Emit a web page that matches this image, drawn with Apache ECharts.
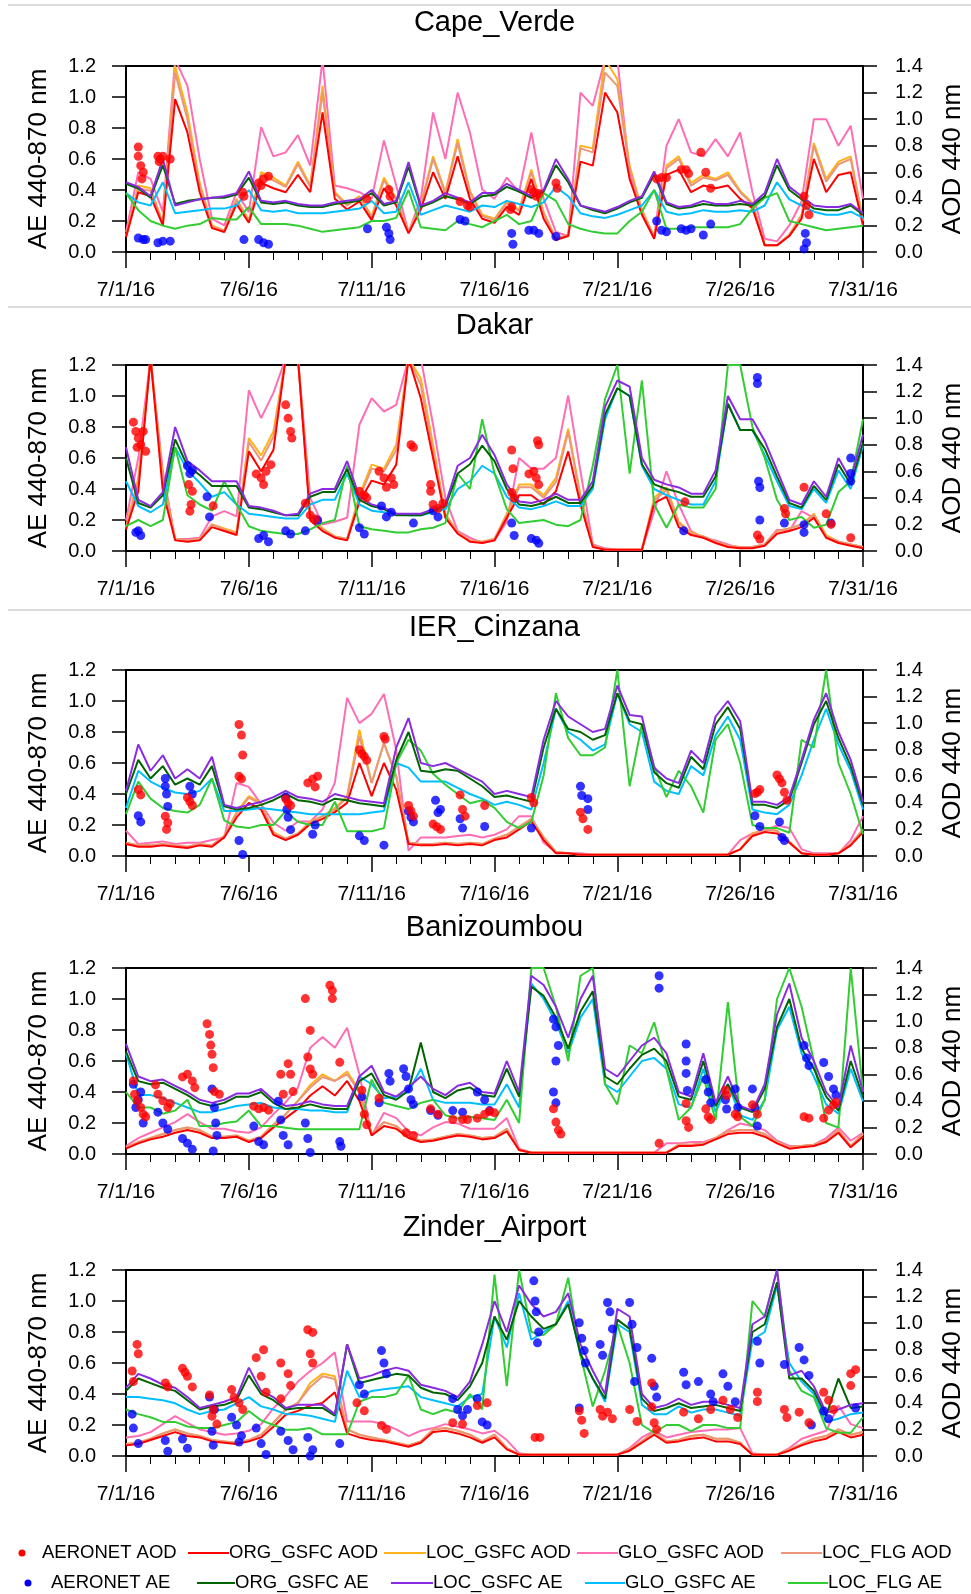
<!DOCTYPE html>
<html>
<head>
<meta charset="utf-8">
<script src="https://cdn.jsdelivr.net/npm/echarts@6/dist/echarts.min.js"></script>
<style>
  html, body { margin: 0; padding: 0; background: #fff; }
  #chart { width: 971px; height: 1594px; }
</style>
</head>
<body>
<div id="chart"></div>
<script>
// days after 7/1/16, 12-hourly
const days = [0,0.5,1,1.5,2,2.5,3,3.5,4,4.5,5,5.5,6,6.5,7,7.5,8,8.5,9,9.5,10,10.5,11,11.5,12,12.5,13,13.5,14,14.5,15,
  15.5,16,16.5,17,17.5,18,18.5,19,19.5,20,20.5,21,21.5,22,22.5,23,23.5,24,24.5,25,25.5,26,26.5,27,27.5,28,28.5,29,29.5,30];

// ---- Cape_Verde ----
const cvOrgAod = [.11,.45,.42,.2,1.15,.9,.45,.18,.15,.36,.22,.52,.48,.45,.58,.45,1.05,.4,.32,.38,.24,.48,.35,.14,.32,.6,.4,.72,.4,.25,.22,
  .34,.28,.55,.25,.09,.12,.68,.65,1.2,1.05,.55,.28,.1,.58,.62,.45,.5,.48,.5,.4,.33,.05,.05,.12,.25,.7,.45,.58,.6,.2];
const cvLocAod = [.12,.5,.48,.22,1.4,1.05,.52,.2,.16,.4,.24,.6,.56,.5,.68,.5,1.25,.45,.36,.42,.27,.56,.4,.15,.36,.72,.45,.85,.46,.28,.25,
  .38,.32,.62,.3,.1,.13,.8,.78,1.45,1.3,.65,.32,.11,.65,.72,.52,.58,.55,.6,.46,.37,.05,.05,.13,.28,.82,.55,.68,.72,.24];
const cvGloAod = [.15,.6,.55,.3,1.45,1.25,.7,.25,.2,.45,.3,.94,.72,.75,.88,.65,1.45,.5,.48,.45,.4,.84,.5,.15,.4,1.05,.7,1.2,.9,.47,.4,
  .56,.45,.9,.4,.15,.12,1.2,1.1,1.45,1.45,.6,.3,.12,.8,1.0,.75,.72,.85,.72,.9,.45,.1,.08,.2,.38,1.0,1.0,.8,.95,.4];
const cvFlgAod = [.12,.48,.46,.22,1.35,1.0,.5,.19,.16,.39,.23,.58,.54,.49,.66,.49,1.2,.44,.35,.41,.26,.54,.39,.15,.35,.7,.44,.82,.45,.27,.24,
  .37,.31,.6,.29,.1,.13,.78,.75,1.35,1.25,.63,.31,.11,.63,.7,.5,.56,.54,.58,.45,.36,.05,.05,.13,.27,.8,.53,.66,.7,.23];
const cvOrgAe = [.44,.41,.35,.56,.31,.33,.34,.35,.35,.37,.48,.32,.31,.32,.3,.29,.29,.31,.32,.33,.38,.3,.32,.55,.29,.32,.36,.34,.31,.36,.37,
  .42,.39,.35,.39,.56,.45,.3,.27,.25,.28,.32,.35,.5,.31,.28,.29,.31,.3,.3,.31,.3,.36,.56,.4,.34,.28,.27,.27,.3,.24];
const cvLocAe = [.45,.42,.36,.6,.3,.32,.34,.35,.36,.38,.52,.33,.32,.33,.31,.3,.3,.32,.33,.34,.4,.31,.33,.58,.3,.33,.38,.35,.32,.38,.38,
  .44,.4,.36,.4,.6,.47,.3,.28,.26,.29,.33,.36,.52,.32,.29,.3,.33,.31,.31,.33,.31,.38,.6,.42,.36,.3,.29,.29,.31,.25];
const cvGloAe = [.38,.32,.3,.45,.25,.26,.27,.28,.28,.3,.4,.27,.26,.27,.25,.25,.25,.26,.27,.28,.33,.25,.26,.45,.24,.27,.3,.28,.26,.3,.29,
  .33,.31,.29,.32,.42,.36,.25,.23,.22,.24,.27,.3,.4,.26,.24,.25,.27,.26,.26,.27,.26,.3,.45,.34,.3,.26,.24,.24,.26,.22];
const cvFlgAe = [.38,.27,.2,.17,.15,.17,.18,.22,.21,.21,.29,.18,.18,.18,.17,.15,.13,.14,.15,.16,.2,.2,.22,.4,.16,.15,.14,.2,.18,.16,.2,
  .24,.18,.2,.38,.33,.18,.15,.13,.12,.12,.2,.26,.4,.15,.15,.16,.16,.16,.16,.18,.28,.35,.38,.2,.18,.16,.14,.15,.16,.17];
const cvAeronetAod = [[0.5,.79],[0.5,.72],[0.6,.65],[0.7,.6],[0.65,.55],[1.3,.72],[1.4,.7],[1.5,.72],[1.8,.7],[1.35,.68],[4.75,.45],[4.8,.42],
  [5.4,.52],[5.6,.55],[5.8,.57],[5.5,.5],[9.8,.4],[10.7,.47],[10.75,.42],[13.6,.38],[13.9,.35],[14.0,.34],[15.7,.34],[15.65,.32],
  [16.5,.47],[16.6,.45],[16.8,.44],[16.7,.42],[17.5,.52],[17.55,.48],[21.6,.55],[21.8,.56],[22.0,.56],[22.6,.62],[22.8,.62],[22.9,.59],
  [23.4,.75],[23.6,.6],[23.8,.48],[27.6,.42],[27.7,.35],[27.8,.28]];
const cvAeronetAe = [[0.5,.09],[0.7,.08],[0.8,.08],[1.3,.06],[1.5,.07],[1.8,.07],[4.8,.08],[5.4,.08],[5.6,.06],[5.8,.05],[9.83,.15],
  [10.6,.16],[10.7,.12],[10.75,.08],[13.6,.21],[13.8,.2],[15.7,.12],[15.75,.05],[16.4,.14],[16.6,.14],[16.8,.12],[17.5,.1],
  [21.6,.2],[21.8,.14],[22.0,.13],[22.6,.15],[22.8,.14],[23.0,.15],[23.5,.11],[23.8,.18],[27.65,.12],[27.7,.06],[27.6,.02]];

// ---- Dakar ----
const dkOrgAod = [.16,.45,1.45,.45,.08,.07,.08,.18,.15,.12,.75,.6,.76,1.45,1.45,.23,.15,.1,.08,.37,.53,.5,.65,1.45,1.15,.7,.25,.13,.07,.06,.08,
  .25,.42,.42,.35,.45,.75,.35,.03,.01,.01,.01,.01,.36,.41,.18,.12,.1,.06,.03,.02,.02,.04,.13,.15,.18,.25,.1,.06,.04,.02];
const dkLocAod = [.18,.55,1.45,.55,.09,.08,.09,.2,.17,.14,.85,.72,.9,1.45,1.45,.28,.17,.11,.09,.42,.65,.62,.8,1.45,1.3,.8,.28,.14,.08,.07,.09,
  .28,.5,.5,.42,.55,.92,.42,.04,.01,.01,.01,.01,.4,.48,.22,.14,.11,.07,.04,.03,.03,.05,.15,.17,.2,.28,.12,.07,.05,.03];
const dkGloAod = [.23,.7,1.45,.6,.09,.09,.1,.26,.3,.26,1.21,1.0,1.19,1.45,1.45,.4,.2,.22,.25,.95,1.15,1.05,1.1,1.45,1.45,.95,.4,.15,.1,.06,.08,
  .22,.7,.62,.62,.7,1.17,.6,.05,.02,.01,.01,.01,.3,.6,.35,.15,.1,.08,.05,.02,.03,.05,.16,.15,.3,.25,.11,.07,.05,.03];
const dkFlgAod = [.17,.52,1.45,.52,.09,.08,.09,.2,.16,.13,.82,.68,.86,1.45,1.45,.26,.16,.11,.09,.4,.62,.6,.76,1.45,1.25,.76,.27,.14,.08,.07,.09,
  .27,.48,.48,.4,.52,.9,.4,.04,.01,.01,.01,.01,.38,.46,.21,.13,.11,.07,.04,.03,.03,.05,.15,.17,.2,.27,.11,.07,.05,.03];
const dkOrgAe = [.6,.31,.28,.36,.72,.55,.49,.42,.42,.42,.28,.27,.25,.23,.23,.35,.38,.38,.53,.33,.29,.27,.23,.23,.23,.26,.29,.5,.56,.68,.58,
  .4,.3,.29,.31,.35,.31,.31,.42,.88,1.05,1.0,.56,.43,.4,.38,.35,.35,.48,.95,.78,.78,.66,.48,.31,.28,.42,.33,.56,.43,.7];
const dkLocAe = [.67,.33,.29,.38,.8,.58,.52,.45,.45,.45,.29,.28,.26,.23,.24,.37,.4,.4,.58,.35,.3,.28,.24,.24,.24,.27,.3,.55,.6,.75,.62,
  .43,.32,.31,.33,.37,.33,.33,.45,.93,1.1,1.06,.6,.46,.43,.41,.37,.37,.52,1.0,.85,.85,.71,.52,.33,.3,.45,.35,.6,.46,.75];
const dkGloAe = [.45,.29,.25,.3,.67,.52,.44,.35,.38,.3,.24,.23,.22,.21,.21,.3,.33,.33,.5,.3,.26,.25,.24,.23,.23,.25,.27,.4,.45,.55,.5,
  .35,.28,.27,.29,.32,.29,.29,.4,.85,1.05,1.0,.55,.4,.36,.33,.3,.3,.45,.95,.78,.78,.62,.45,.29,.27,.4,.31,.52,.4,.68];
const dkFlgAe = [.16,.2,.16,.2,.67,.36,.3,.26,.45,.3,.16,.13,.12,.11,.11,.14,.18,.2,.55,.16,.14,.13,.12,.12,.14,.15,.18,.5,.4,.85,.5,
  .27,.18,.19,.2,.17,.16,.2,.55,.98,1.2,.5,1.1,.3,.15,.3,.28,.28,.4,1.2,1.2,.8,.6,.33,.2,.22,.15,.17,.38,.45,.85];
const dkAeronetAod = [[0.3,.97],[0.4,.9],[0.5,.85],[0.6,.8],[0.7,.9],[0.8,.75],[0.45,.78],[2.55,.5],[2.7,.45],[2.65,.35],[2.6,.3],[3.55,.34],
  [5.3,.58],[5.5,.55],[5.7,.6],[5.9,.65],[5.6,.5],[6.5,1.1],[6.6,1.0],[6.7,.9],[6.75,.85],[7.3,.36],[7.5,.27],[7.7,.24],[9.5,.45],[9.7,.42],
  [9.8,.4],[10.3,.6],[10.5,.55],[10.8,.55],[10.9,.5],[10.6,.48],[11.6,.8],[11.7,.78],[12.4,.5],[12.4,.45],[12.5,.35],[12.7,.32],[12.9,.36],
  [15.7,.76],[15.75,.62],[15.7,.44],[15.8,.4],[16.4,.58],[16.6,.6],[16.7,.55],[16.75,.83],[16.8,.8],[16.8,.5],[22.75,.37],[25.7,.12],
  [25.8,.09],[26.8,.32],[26.85,.28],[27.6,.48],[28.5,.28],[28.7,.2],[29.5,.1]];
const dkAeronetAe = [[0.4,.12],[0.6,.1],[0.5,.13],[2.5,.55],[2.6,.5],[2.7,.52],[3.3,.35],[3.4,.22],[5.4,.08],[5.6,.1],[5.8,.06],[6.5,.13],
  [6.7,.11],[7.3,.13],[7.8,.2],[9.5,.15],[9.7,.11],[10.4,.29],[10.6,.22],[10.8,.25],[11.7,.18],[12.5,.26],[12.7,.22],[15.7,.18],[15.8,.1],
  [16.5,.08],[16.7,.07],[16.8,.05],[22.7,.13],[25.7,1.12],[25.7,1.08],[25.75,.45],[25.8,.41],[25.8,.2],[26.8,.18],[27.6,.17],[27.6,.12],
  [28.7,.18],[29.5,.6],[29.5,.5],[29.5,.45]];

// ---- IER_Cinzana ----
const icOrgAod = [.09,.07,.07,.08,.07,.06,.08,.07,.14,.29,.4,.35,.16,.12,.16,.24,.28,.33,.4,.7,.45,.7,.5,.09,.08,.08,.09,.08,.09,.08,.12,
  .14,.2,.26,.12,.02,.02,.01,.01,.01,.01,.01,.01,.01,.01,.01,.01,.01,.01,.01,.05,.15,.18,.17,.1,.02,.01,.01,.02,.08,.18];
const icLocAod = [.1,.08,.08,.09,.08,.07,.09,.08,.15,.33,.45,.4,.18,.13,.17,.26,.3,.36,.45,.95,.55,.85,.6,.1,.09,.09,.1,.09,.1,.09,.13,
  .16,.22,.28,.14,.03,.02,.01,.01,.01,.01,.01,.01,.01,.01,.01,.01,.01,.01,.01,.05,.17,.2,.19,.11,.02,.01,.01,.02,.09,.2];
const icGloAod = [.19,.09,.1,.11,.09,.1,.1,.12,.14,.55,.52,.39,.25,.19,.26,.26,.35,.55,1.19,1.0,1.07,1.22,.8,.04,.14,.14,.14,.15,.16,.14,.16,
  .2,.3,.3,.1,.03,.02,.02,.01,.01,.01,.01,.01,.01,.01,.01,.01,.01,.01,.01,.12,.17,.19,.23,.21,.05,.02,.02,.02,.12,.3];
const icFlgAod = [.1,.08,.08,.09,.08,.07,.09,.08,.15,.32,.44,.39,.17,.13,.17,.25,.3,.35,.44,.9,.55,.85,.6,.1,.09,.09,.1,.09,.1,.09,.13,
  .16,.22,.28,.14,.03,.02,.01,.01,.01,.01,.01,.01,.01,.01,.01,.01,.01,.01,.01,.05,.16,.2,.19,.11,.02,.01,.01,.02,.09,.2];
const icOrgAe = [.4,.62,.5,.58,.46,.5,.46,.58,.32,.3,.31,.33,.36,.4,.36,.35,.33,.37,.36,.34,.33,.32,.62,.8,.55,.54,.56,.55,.5,.45,.38,
  .39,.37,.35,.7,.95,.82,.8,.75,.78,1.05,.87,.85,.54,.47,.44,.64,.56,.85,.96,.82,.33,.33,.31,.36,.6,.85,1.0,.76,.58,.33];
const icLocAe = [.42,.72,.55,.65,.5,.56,.5,.64,.33,.31,.33,.35,.38,.42,.38,.37,.35,.4,.38,.36,.35,.34,.7,.89,.6,.58,.6,.56,.52,.48,.4,
  .42,.4,.38,.75,1.0,.9,.85,.8,.82,1.1,.91,.9,.57,.5,.47,.68,.6,.9,1.0,.87,.35,.35,.33,.38,.62,.88,1.05,.8,.62,.35];
const icGloAe = [.31,.55,.48,.44,.41,.4,.42,.5,.29,.29,.3,.31,.3,.29,.28,.27,.27,.27,.27,.27,.28,.29,.6,.57,.48,.48,.48,.44,.4,.37,.33,
  .35,.33,.3,.6,.95,.8,.75,.68,.72,1.05,.85,.8,.48,.42,.4,.58,.52,.78,.9,.75,.3,.28,.27,.33,.52,.75,.95,.72,.55,.3];
const icFlgAe = [.27,.48,.37,.31,.29,.28,.33,.5,.23,.19,.18,.2,.2,.29,.22,.2,.2,.35,.16,.16,.16,.18,.6,.75,.68,.53,.46,.4,.34,.36,.31,
  .22,.18,.22,.52,1.05,.76,.65,.65,.7,1.2,.45,.85,.58,.38,.55,.45,.28,.75,.85,.6,.2,.18,.18,.15,.75,.7,1.2,.6,.4,.14];
const icAeronetAod = [[0.5,.5],[0.6,.46],[1.6,.3],[1.7,.25],[1.65,.2],[2.5,.44],[2.7,.38],[2.6,.41],[4.6,.99],[4.7,.91],[4.75,.76],[4.6,.6],
  [4.7,.58],[6.5,.43],[6.7,.38],[6.6,.4],[7.4,.55],[7.6,.58],[7.8,.6],[7.7,.52],[9.5,.8],[9.7,.75],[9.8,.72],[9.6,.77],[10.5,.9],[10.55,.88],
  [11.5,.38],[11.7,.3],[11.6,.34],[12.5,.24],[12.8,.2],[12.65,.22],[13.6,.46],[13.7,.35],[13.8,.3],[14.6,.38],[16.5,.44],[16.6,.4],
  [18.5,.33],[18.6,.28],[18.8,.2],[25.6,.47],[25.8,.5],[25.7,.48],[26.5,.61],[26.6,.58],[26.7,.55],[26.8,.48],[26.9,.42]];
const icAeronetAe = [[0.5,.26],[0.6,.22],[1.6,.5],[1.65,.4],[1.7,.32],[1.6,.45],[2.6,.45],[2.7,.4],[4.6,.1],[4.75,.01],[6.5,.38],[6.6,.25],
  [6.7,.17],[6.55,.3],[7.7,.2],[7.6,.14],[9.5,.13],[9.7,.1],[10.5,.07],[11.5,.29],[11.7,.22],[11.6,.25],[12.6,.36],[12.7,.28],[12.8,.3],
  [13.6,.24],[13.7,.18],[14.6,.19],[16.5,.18],[18.5,.45],[18.55,.39],[18.8,.37],[18.8,.3],[25.6,.26],[25.8,.19],[26.6,.22],[26.7,.12],[26.8,.1]];

// ---- Banizoumbou ----
const bzOrgAod = [.04,.08,.11,.13,.16,.18,.16,.12,.12,.13,.09,.12,.2,.27,.34,.44,.51,.44,.55,.4,.14,.21,.19,.12,.09,.1,.12,.14,.13,.11,.12,
  .17,.03,.01,.01,.01,.01,.01,.01,.01,.01,.01,.01,.01,.01,.06,.06,.07,.11,.15,.16,.16,.13,.08,.04,.05,.06,.09,.16,.05,.13];
const bzLocAod = [.05,.09,.12,.15,.18,.2,.18,.13,.13,.14,.1,.13,.22,.3,.4,.52,.6,.55,.62,.48,.15,.24,.21,.13,.1,.11,.13,.15,.14,.12,.13,
  .19,.03,.01,.01,.01,.01,.01,.01,.01,.01,.01,.01,.01,.01,.07,.07,.08,.12,.17,.18,.18,.15,.09,.05,.06,.07,.1,.18,.06,.15];
const bzGloAod = [.06,.12,.16,.2,.24,.3,.24,.19,.19,.17,.16,.2,.3,.39,.5,.8,.88,.8,.95,.6,.14,.31,.27,.17,.14,.2,.24,.23,.19,.19,.19,
  .27,.04,.01,.01,.01,.01,.01,.01,.01,.01,.01,.01,.01,.08,.08,.09,.09,.12,.18,.23,.21,.18,.1,.06,.06,.07,.12,.2,.1,.16];
const bzFlgAod = [.05,.09,.12,.15,.18,.2,.18,.13,.13,.14,.1,.13,.22,.3,.4,.5,.58,.55,.6,.47,.15,.24,.21,.13,.1,.11,.13,.15,.14,.12,.13,
  .19,.03,.01,.01,.01,.01,.01,.01,.01,.01,.01,.01,.01,.01,.07,.07,.08,.12,.17,.18,.18,.15,.09,.05,.06,.07,.1,.18,.06,.15];
const bzOrgAe = [.66,.47,.45,.46,.42,.38,.33,.31,.33,.37,.37,.4,.33,.29,.3,.32,.3,.29,.29,.47,.52,.38,.35,.41,.72,.4,.36,.41,.43,.38,.37,
  .55,.37,1.08,1.02,.88,.68,.92,1.05,.5,.45,.55,.64,.68,.6,.37,.35,.6,.31,.45,.3,.27,.42,.82,1.0,.68,.55,.37,.28,.6,.37];
const bzLocAe = [.71,.5,.47,.48,.44,.4,.35,.33,.35,.39,.39,.42,.35,.31,.32,.34,.32,.31,.31,.5,.57,.4,.37,.43,.5,.42,.38,.44,.46,.4,.39,
  .6,.4,1.15,1.09,.95,.75,1.0,1.15,.55,.5,.6,.7,.75,.65,.4,.37,.65,.33,.5,.31,.28,.45,.9,1.1,.75,.6,.4,.3,.7,.4];
const bzGloAe = [.65,.38,.38,.36,.33,.3,.27,.27,.29,.31,.32,.33,.3,.29,.29,.28,.28,.27,.27,.5,.45,.36,.37,.4,.55,.35,.33,.33,.33,.32,.32,
  .45,.3,1.1,1.0,.85,.65,.88,1.0,.45,.4,.5,.6,.62,.55,.32,.3,.55,.27,.45,.25,.22,.35,.8,.95,.65,.5,.32,.26,.55,.34];
const bzFlgAe = [.4,.3,.3,.26,.28,.35,.18,.18,.2,.21,.28,.18,.18,.17,.16,.16,.16,.16,.16,.16,.48,.33,.31,.29,.33,.35,.25,.23,.24,.23,.22,
  .35,.2,1.2,1.2,.95,.6,1.15,1.2,.45,.32,.7,.65,.85,.55,.22,.3,.5,.22,.98,.24,.18,.35,1.0,1.2,.95,.6,.2,.17,1.2,.4];
const bzAeronetAod = [[0.3,.55],[0.35,.45],[0.45,.4],[0.6,.35],[0.7,.3],[0.8,.28],[1.2,.52],[1.3,.45],[1.5,.4],[1.7,.35],[1.8,.38],[2.3,.58],
  [2.5,.6],[2.7,.55],[2.8,.5],[3.3,.98],[3.4,.9],[3.45,.82],[3.5,.75],[3.55,.65],[3.6,.47],[3.8,.45],[5.2,.36],[5.4,.34],[5.6,.35],[5.8,.33],
  [6.3,.6],[6.6,.68],[6.7,.6],[6.8,.47],[6.4,.45],[7.3,1.17],[7.5,.93],[7.4,.73],[7.5,.64],[7.6,.6],[8.3,1.27],[8.4,1.23],[8.4,1.17],[8.7,.69],
  [9.6,.48],[9.7,.3],[9.8,.22],[10.3,.42],[11.4,.16],[11.7,.14],[12.4,.34],[12.7,.3],[13.3,.26],[13.7,.26],[13.9,.26],[14.3,.27],[14.6,.3],
  [14.8,.32],[15.0,.31],[17.4,.34],[17.5,.24],[17.6,.18],[17.7,.15],[21.7,.08],[22.8,.38],[22.8,.25],[22.9,.2],[23.6,.34],[23.7,.28],[23.8,.26],
  [24.4,.48],[24.45,.44],[24.8,.3],[24.9,.28],[25.5,.37],[25.7,.3],[27.6,.28],[27.8,.27],[28.4,.27],[28.6,.33],[28.8,.37],[28.9,.39]];
const bzAeronetAe = [[0.3,.45],[0.4,.3],[0.6,.4],[0.7,.2],[0.5,.35],[1.3,.27],[1.5,.2],[1.7,.16],[2.3,.1],[2.5,.07],[2.7,.03],[3.5,.42],[3.6,.3],
  [3.7,.12],[3.55,.02],[3.65,.2],[5.2,.18],[5.4,.08],[5.6,.06],[6.2,.34],[6.4,.12],[6.6,.06],[6.3,.22],[7.3,.2],[7.4,.1],[7.5,.01],[8.7,.08],
  [8.75,.05],[9.6,.37],[10.3,.33],[10.7,.52],[10.75,.47],[11.3,.55],[11.4,.5],[11.5,.42],[11.6,.35],[11.7,.32],[12.4,.28],[12.7,.25],[13.3,.28],
  [13.7,.27],[14.3,.4],[14.6,.35],[14.8,.28],[17.4,.87],[17.5,.82],[17.6,.7],[17.5,.6],[17.4,.4],[17.5,.33],[21.7,1.15],[21.7,1.07],[22.8,.71],
  [22.8,.6],[22.8,.52],[22.85,.41],[23.6,.48],[23.7,.4],[23.8,.33],[24.4,.35],[24.45,.29],[24.8,.42],[24.9,.3],[25.5,.42],[25.6,.3],[25.7,.18],
  [27.6,.7],[27.7,.62],[27.8,.57],[28.4,.59],[28.6,.5],[28.8,.42],[28.9,.38]];

// ---- Zinder_Airport ----
const zaOrgAod = [.08,.09,.12,.15,.18,.15,.14,.11,.1,.09,.11,.14,.22,.31,.34,.38,.4,.48,.17,.14,.12,.11,.09,.07,.1,.18,.19,.17,.14,.1,.14,
  .05,.01,.01,.01,.01,.01,.01,.01,.01,.01,.04,.1,.16,.1,.11,.13,.14,.11,.11,.09,.01,.01,.01,.04,.08,.11,.13,.18,.14,.16];
const zaLocAod = [.09,.1,.13,.17,.2,.17,.15,.12,.11,.1,.12,.16,.25,.35,.4,.55,.62,.6,.2,.16,.14,.12,.1,.08,.11,.2,.21,.19,.16,.11,.16,
  .06,.01,.01,.01,.01,.01,.01,.01,.01,.01,.05,.11,.18,.11,.12,.15,.16,.13,.13,.1,.01,.01,.01,.05,.09,.13,.15,.2,.16,.18];
const zaGloAod = [.14,.15,.18,.24,.3,.25,.2,.18,.16,.17,.19,.24,.36,.45,.56,.64,.7,.78,.26,.26,.26,.24,.2,.15,.19,.21,.24,.22,.2,.17,.19,
  .12,.02,.01,.01,.01,.01,.01,.01,.01,.01,.06,.14,.19,.14,.16,.18,.19,.2,.2,.21,.02,.01,.01,.06,.13,.16,.19,.38,.24,.21];
const zaFlgAod = [.09,.1,.13,.17,.2,.17,.15,.12,.11,.1,.12,.16,.25,.35,.4,.52,.6,.58,.2,.16,.14,.12,.1,.08,.11,.2,.21,.19,.16,.11,.16,
  .06,.01,.01,.01,.01,.01,.01,.01,.01,.01,.05,.11,.18,.11,.12,.15,.16,.13,.13,.1,.01,.01,.01,.05,.09,.13,.15,.2,.16,.18];
const zaOrgAe = [.42,.5,.47,.44,.42,.36,.3,.32,.33,.36,.52,.4,.36,.3,.31,.31,.31,.26,.72,.47,.49,.51,.53,.52,.44,.41,.4,.36,.45,.6,.9,
  .75,1.0,.9,.82,.85,.98,.66,.5,.37,.88,.82,.37,.29,.31,.34,.31,.32,.33,.31,.29,.8,.85,1.12,.5,.5,.42,.26,.5,.31,.32];
const zaLocAe = [.44,.53,.5,.46,.44,.38,.31,.33,.35,.38,.57,.42,.38,.31,.33,.33,.33,.27,.72,.5,.52,.55,.57,.55,.46,.44,.42,.38,.48,.72,1.0,
  .8,1.1,.98,.9,.93,1.05,.72,.55,.4,.95,.9,.4,.31,.33,.37,.33,.35,.35,.33,.31,.85,.9,1.2,.52,.55,.45,.28,.3,.33,.34];
const zaGloAe = [.38,.38,.37,.36,.34,.3,.27,.29,.3,.34,.38,.32,.3,.27,.27,.26,.24,.22,.55,.38,.42,.43,.44,.45,.38,.36,.34,.32,.38,.4,.9,
  .7,1.05,.75,.8,.85,1.0,.65,.5,.35,.85,.8,.33,.27,.27,.32,.28,.3,.3,.28,.26,.75,.8,1.1,.6,.48,.4,.22,.24,.27,.28];
const zaFlgAe = [.3,.27,.25,.22,.22,.19,.18,.18,.2,.22,.29,.23,.2,.17,.17,.18,.14,.14,.14,.35,.38,.38,.4,.52,.3,.27,.3,.28,.4,.3,1.17,
  .45,1.2,.8,.78,.85,1.15,.65,.32,.55,.85,.6,.2,.15,.2,.2,.16,.2,.2,.18,.18,1.0,.9,1.2,.55,.42,.38,.18,.15,.15,.25];
const zaAeronetAod = [[0.25,.64],[0.3,.56],[0.45,.84],[0.5,.77],[1.6,.55],[1.7,.52],[2.3,.66],[2.5,.6],[2.7,.52],[2.4,.63],[3.4,.46],[3.5,.3],
  [3.7,.24],[3.55,.35],[4.3,.5],[4.4,.44],[4.6,.4],[4.75,.35],[5.3,.74],[5.6,.8],[5.7,.48],[5.5,.6],[6.3,.7],[6.6,.62],[6.7,.53],[6.3,.43],
  [7.4,.95],[7.6,.93],[7.5,.77],[7.6,.7],[9.4,.4],[9.7,.34],[10.4,.23],[10.6,.2],[13.3,.25],[13.7,.24],[14.3,.38],[14.7,.4],[16.65,.14],
  [16.85,.14],[18.45,.34],[18.55,.27],[18.65,.17],[19.3,.35],[19.4,.3],[19.6,.33],[19.8,.28],[20.5,.35],[20.8,.26],[21.4,.55],[21.4,.37],
  [21.5,.25],[21.6,.2],[22.7,.33],[23.3,.28],[23.8,.35],[24.3,.42],[24.6,.35],[24.9,.29],[25.7,.48],[25.7,.41],[26.8,.35],[26.9,.29],[27.4,.33],
  [27.8,.25],[28.4,.48],[28.6,.42],[28.8,.35],[29.5,.62],[29.7,.65],[29.5,.53]];
const zaAeronetAe = [[0.25,.27],[0.3,.18],[0.5,.08],[1.6,.1],[1.7,.03],[2.3,.11],[2.5,.05],[3.4,.38],[3.6,.3],[3.5,.16],[3.55,.07],[4.3,.25],
  [4.5,.2],[4.7,.13],[4.6,.09],[5.3,.18],[5.5,.08],[5.7,.01],[6.3,.16],[6.6,.1],[6.8,.04],[7.4,.12],[7.6,.04],[7.5,.0],[8.7,.08],[9.5,.46],
  [9.7,.4],[10.4,.68],[10.5,.6],[10.6,.53],[13.3,.37],[13.5,.3],[13.7,.26],[13.9,.3],[14.3,.37],[14.5,.22],[14.7,.2],[16.6,1.13],[16.65,1.0],
  [16.7,.93],[16.8,.8],[16.75,.73],[18.45,.86],[18.55,.76],[18.65,.68],[18.7,.6],[18.45,.31],[19.3,.72],[19.4,.65],[19.6,.99],[19.7,.93],
  [19.8,.82],[20.5,.99],[20.6,.85],[20.8,.7],[20.7,.48],[21.4,.63],[21.5,.45],[21.6,.38],[22.7,.54],[22.8,.46],[23.3,.48],[23.8,.4],[23.9,.35],
  [24.3,.53],[24.5,.45],[24.8,.35],[25.7,.74],[25.8,.6],[26.8,.59],[27.4,.7],[27.6,.62],[27.8,.52],[27.9,.2],[28.4,.29],[28.6,.24],[29.7,.31]];

const panelTitles = ['Cape_Verde', 'Dakar', 'IER_Cinzana', 'Banizoumbou', 'Zinder_Airport'];
const panelTops = [66, 365, 670, 968, 1270];
const titleY = [23, 326, 628, 928, 1228];
const gridLeft = 126, gridWidth = 737, gridHeight = 186;
const FONT = '"Liberation Sans", Arial, Helvetica, sans-serif';

const panelData = [
  [cvGloAod, cvLocAod, cvFlgAod, cvOrgAod, cvGloAe, cvFlgAe, cvOrgAe, cvLocAe, cvAeronetAod, cvAeronetAe],
  [dkGloAod, dkLocAod, dkFlgAod, dkOrgAod, dkGloAe, dkFlgAe, dkOrgAe, dkLocAe, dkAeronetAod, dkAeronetAe],
  [icGloAod, icLocAod, icFlgAod, icOrgAod, icGloAe, icFlgAe, icOrgAe, icLocAe, icAeronetAod, icAeronetAe],
  [bzGloAod, bzLocAod, bzFlgAod, bzOrgAod, bzGloAe, bzFlgAe, bzOrgAe, bzLocAe, bzAeronetAod, bzAeronetAe],
  [zaGloAod, zaLocAod, zaFlgAod, zaOrgAod, zaGloAe, zaFlgAe, zaOrgAe, zaLocAe, zaAeronetAod, zaAeronetAe]
];
// drawing order matches panelData columns
const lineDefs = [
  { name: 'GLO_GSFC AOD', color: '#ff6eb4', aod: true },
  { name: 'LOC_GSFC AOD', color: '#ffb31a', aod: true },
  { name: 'LOC_FLG AOD', color: '#e9967a', aod: true },
  { name: 'ORG_GSFC AOD', color: '#ff0000', aod: true },
  { name: 'GLO_GSFC AE', color: '#00bfff', aod: false },
  { name: 'LOC_FLG AE', color: '#32cd32', aod: false },
  { name: 'ORG_GSFC AE', color: '#006400', aod: false },
  { name: 'LOC_GSFC AE', color: '#8a2be2', aod: false }
];

const chart = echarts.init(document.getElementById('chart'), null, { renderer: 'canvas' });

const grids = [], xAxes = [], yAxes = [], series = [], graphics = [];
const labelStyle = { color: '#000', fontSize: 20, fontFamily: FONT };

panelTops.forEach((top, p) => {
  grids.push({ left: gridLeft, width: gridWidth, top: top, height: gridHeight, show: true, borderColor: '#000', borderWidth: 2, backgroundColor: 'transparent' });
  xAxes.push({
    type: 'value', gridIndex: p, min: 0, max: 30, interval: 5,
    axisLine: { show: true, onZero: false, lineStyle: { color: '#000', width: 2 } },
    axisTick: { show: true, length: 16, lineStyle: { color: '#000', width: 1.5 } },
    minorTick: { show: true, splitNumber: 5, length: 8, lineStyle: { color: '#000', width: 1 } },
    splitLine: { show: false },
    axisLabel: Object.assign({ margin: 28, showMinLabel: true, showMaxLabel: true,
      formatter: v => '7/' + (v + 1) + '/16' }, labelStyle, { fontSize: 21 })
  });
  yAxes.push({
    type: 'value', gridIndex: p, position: 'left', min: 0, max: 1.2, interval: 0.2,
    axisLine: { show: true, onZero: false, lineStyle: { color: '#000', width: 2 } },
    axisTick: { show: true, length: 14, lineStyle: { color: '#000', width: 1.5 } },
    splitLine: { show: false },
    axisLabel: Object.assign({ margin: 30, formatter: v => v.toFixed(1) }, labelStyle)
  });
  yAxes.push({
    type: 'value', gridIndex: p, position: 'right', min: 0, max: 1.4, interval: 0.2,
    axisLine: { show: true, onZero: false, lineStyle: { color: '#000', width: 2 } },
    axisTick: { show: true, length: 14, lineStyle: { color: '#000', width: 1.5 } },
    splitLine: { show: false },
    axisLabel: Object.assign({ margin: 32, formatter: v => v.toFixed(1) }, labelStyle)
  });

  const cols = panelData[p];
  lineDefs.forEach((def, k) => {
    series.push({
      name: def.name, type: 'line', xAxisIndex: p, yAxisIndex: def.aod ? 2 * p + 1 : 2 * p,
      data: days.map((d, i) => [d, cols[k][i]]),
      showSymbol: false, symbol: 'none', clip: true,
      lineStyle: { color: def.color, width: 2 }, itemStyle: { color: def.color },
      emphasis: { disabled: true }
    });
  });
  series.push({
    name: 'AERONET AE', type: 'scatter', xAxisIndex: p, yAxisIndex: 2 * p,
    data: cols[9], symbolSize: 9, itemStyle: { color: '#0000ff' }, z: 5
  });
  series.push({
    name: 'AERONET AOD', type: 'scatter', xAxisIndex: p, yAxisIndex: 2 * p + 1,
    data: cols[8], symbolSize: 9, itemStyle: { color: '#ff0000' }, z: 6
  });

  const cy = top + gridHeight / 2;
  graphics.push({ type: 'text', x: 494.5, y: titleY[p],
    style: { text: panelTitles[p], fill: '#000', fontSize: 29, fontFamily: FONT, align: 'center', verticalAlign: 'middle', textAlign: 'center', textVerticalAlign: 'middle' } });
  graphics.push({ type: 'text', x: 39, y: cy, rotation: Math.PI / 2,
    style: { text: 'AE 440-870 nm', fill: '#000', fontSize: 26, fontFamily: FONT, align: 'center', verticalAlign: 'middle', textAlign: 'center', textVerticalAlign: 'middle' } });
  graphics.push({ type: 'text', x: 953, y: cy, rotation: Math.PI / 2,
    style: { text: 'AOD 440 nm', fill: '#000', fontSize: 26, fontFamily: FONT, align: 'center', verticalAlign: 'middle', textAlign: 'center', textVerticalAlign: 'middle' } });
});

// separators between stacked panels
[5, 307, 610].forEach(y => {
  graphics.push({ type: 'line', shape: { x1: 8, y1: y, x2: 971, y2: y }, style: { stroke: '#dcdcdc', lineWidth: 2 } });
});

// legend
const legendRows = [
  { y: 1553, dot: { x: 22, color: '#ff0000', text: 'AERONET AOD', tx: 42 },
    items: [ ['#ff0000', 188, 229, 'ORG_GSFC AOD'], ['#ffb31a', 384, 426, 'LOC_GSFC AOD'], ['#ff6eb4', 577, 618, 'GLO_GSFC AOD'], ['#e9967a', 781, 822, 'LOC_FLG AOD'] ] },
  { y: 1583, dot: { x: 28, color: '#0000ff', text: 'AERONET AE', tx: 51 },
    items: [ ['#006400', 197, 235, 'ORG_GSFC AE'], ['#8a2be2', 391, 433, 'LOC_GSFC AE'], ['#00bfff', 585, 625, 'GLO_GSFC AE'], ['#32cd32', 788, 828, 'LOC_FLG AE'] ] }
];
legendRows.forEach(row => {
  graphics.push({ type: 'circle', shape: { cx: row.dot.x, cy: row.y, r: 3.5 }, style: { fill: row.dot.color } });
  graphics.push({ type: 'text', x: row.dot.tx, y: row.y,
    style: { text: row.dot.text, fill: '#000', fontSize: 18.5, fontFamily: FONT, align: 'left', verticalAlign: 'middle', textAlign: 'left', textVerticalAlign: 'middle' } });
  row.items.forEach(([color, x1, x2, label]) => {
    graphics.push({ type: 'line', shape: { x1: x1, y1: row.y, x2: x2, y2: row.y }, style: { stroke: color, lineWidth: 2 } });
    graphics.push({ type: 'text', x: x2, y: row.y,
      style: { text: label, fill: '#000', fontSize: 18.5, fontFamily: FONT, align: 'left', verticalAlign: 'middle', textAlign: 'left', textVerticalAlign: 'middle' } });
  });
});

chart.setOption({
  animation: false,
  backgroundColor: '#fff',
  grid: grids,
  xAxis: xAxes,
  yAxis: yAxes,
  series: series,
  graphic: graphics
});
window.addEventListener('resize', () => chart.resize());
</script>
</body>
</html>
